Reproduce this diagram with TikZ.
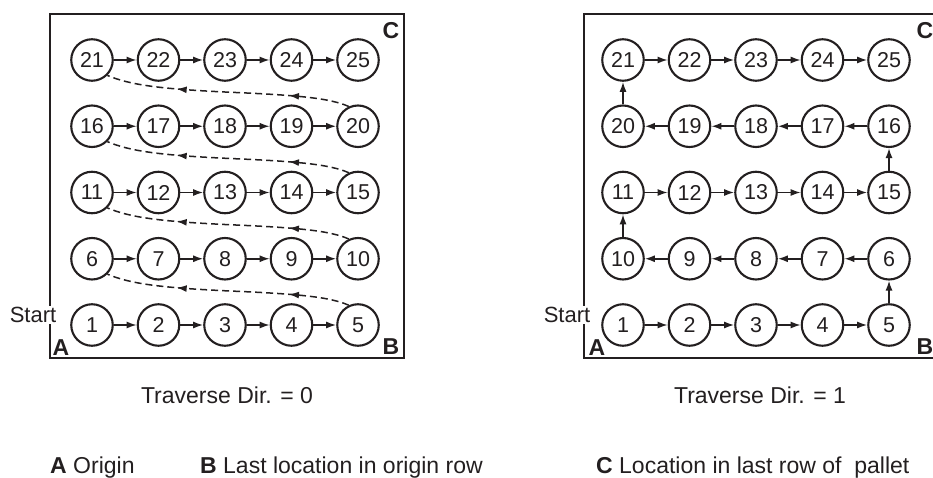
\documentclass[tikz,border=0pt]{standalone}
\usepackage{fontspec}
\setmainfont{Liberation Sans}
\usetikzlibrary{arrows.meta,decorations.markings}
\definecolor{ink}{HTML}{231F20}
\begin{document}
\begin{tikzpicture}[x=1pt,y=-1pt,
  loc/.style={circle,draw=ink,text=ink,line width=2.1pt,minimum size=41.5pt,inner sep=0pt,font=\fontsize{21.5}{21.5}\selectfont},
  flow/.style={draw=ink,line width=1.6pt,-{Latex[length=10pt,width=7pt]}},
  jump/.style={draw=ink,line width=1.5pt,dash pattern=on 7pt off 4pt,postaction={decorate},
    decoration={markings,
      mark=at position 0.25 with {\arrow{Latex[length=10pt,width=7pt]}},
      mark=at position 0.71 with {\arrow{Latex[length=10pt,width=7pt]}}}},
  frame/.style={draw=ink,line width=1.4pt},
  corner/.style={text=ink,font=\fontsize{23}{23}\selectfont\bfseries,inner sep=0pt},
  startlbl/.style={text=ink,fill=white,inner sep=1pt,font=\fontsize{22}{22}\selectfont},
  caption/.style={text=ink,font=\fontsize{23}{23}\selectfont,inner sep=0pt,anchor=base},
  legend/.style={text=ink,font=\fontsize{23}{23}\selectfont,inner sep=0pt,anchor=base west},
]
\useasboundingbox (0,0) rectangle (933,478);

% frames
\draw[frame] (50,14) rectangle (404,358);
\draw[frame] (936,14) -- (584,14) -- (584,358) -- (936,358);

% left panel nodes
\foreach \r in {0,...,4}{
  \foreach \c in {1,...,5}{
    \pgfmathtruncatemacro\n{\r*5+\c}
    \node[loc] (L\n) at ({92+66.5*(\c-1)},{325-66.25*\r}) {\n};
  }
}
% right panel nodes (serpentine)
\foreach \r in {0,...,4}{
  \foreach \c in {1,...,5}{
    \pgfmathtruncatemacro\n{ifthenelse(mod(\r,2)==0,\r*5+\c,\r*5+6-\c)}
    \node[loc] (R\n) at ({623+66.5*(\c-1)},{325-66.25*\r}) {\n};
  }
}

% left panel arrows
\foreach \r in {0,...,4}{
  \foreach \c in {1,...,4}{
    \pgfmathtruncatemacro\a{\r*5+\c}
    \pgfmathtruncatemacro\b{\a+1}
    \draw[flow] (L\a) -- (L\b);
  }
}
\foreach \a/\b in {5/6,10/11,15/16,20/21}{
  \draw[jump] (L\a.115) .. controls ([shift={(-28,-28)}]L\a.center) and ([shift={(-58,-31)}]L\a.center) .. ([shift={(-128,-34)}]L\a.center)
     .. controls ([shift={(68,29)}]L\b.center) and ([shift={(38,25)}]L\b.center) .. (L\b.-45);
}

% right panel arrows
\foreach \a in {1,...,24}{
  \pgfmathtruncatemacro\b{\a+1}
  \draw[flow] (R\a) -- (R\b);
}

% corner labels
\node[corner] (cA1) at (61,348) {A};
\node[corner] (cB1) at (391,347) {B};
\node[corner] (cC1) at (391,31) {C};
\node[corner] (cA2) at (597,348) {A};
\node[corner] (cB2) at (925,347) {B};
\node[corner] (cC2) at (925,31) {C};

% start labels
\node[startlbl] (st1) at (33,315) {Start};
\node[startlbl] (st2) at (567,315) {Start};

% captions
\node[caption] (cap0) at (227,403) {Traverse Dir. = 0};
\node[caption] (cap1) at (760,403) {Traverse Dir. = 1};

% legend
\node[legend] (lgA) at (50,473) {\textbf{A} Origin};
\node[legend] (lgB) at (200,473) {\textbf{B} Last location in origin row};
\node[legend] (lgC) at (596,473) {\textbf{C} Location in last row of\ \ pallet};
\end{tikzpicture}
\end{document}
